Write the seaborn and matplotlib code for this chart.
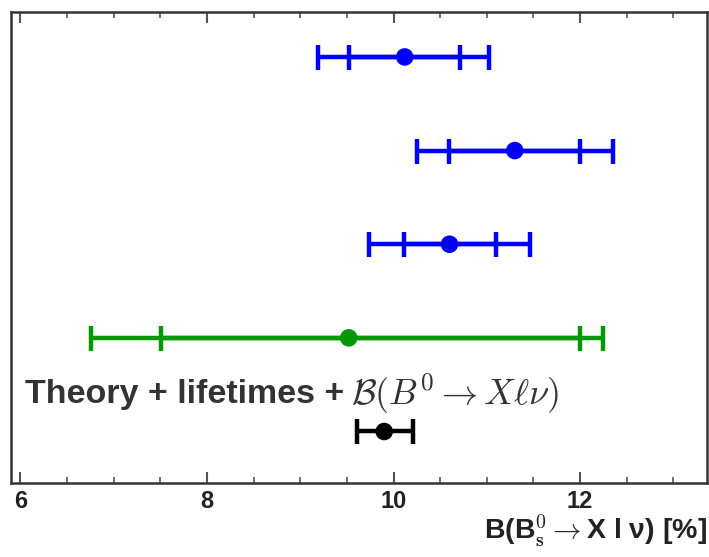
import numpy as np
import pandas as pd
import matplotlib
matplotlib.use("Agg")
import matplotlib.pyplot as plt
import seaborn as sns
from matplotlib.ticker import MultipleLocator

# ---- data ----
rows = ["m1", "m2", "m3", "theory_old", "theory_new"]
ypos = [4, 3, 2, 1, 0]
central = [10.12, 11.30, 10.60, 9.52, 9.90]
inner_lo = [0.60, 0.70, 0.49, 2.01, 0.0]
inner_hi = [0.59, 0.70, 0.50, 2.48, 0.0]
outer_lo = [0.93, 1.05, 0.86, 2.76, 0.29]
outer_hi = [0.90, 1.05, 0.86, 2.72, 0.31]
colors = ["#0000ff", "#0000ff", "#0000ff", "#009900", "#000000"]
xticks = [6, 8, 10, 12]
label_text = "Theory + lifetimes + "
label_math = r"$\mathcal{B}(B^0 \rightarrow X\ell\nu)$"

df = pd.DataFrame({"row": rows, "y": ypos, "x": central})

sns.set_theme(style="white")
plt.rcParams["font.family"] = ["Liberation Sans", "DejaVu Sans"]
plt.rcParams["mathtext.fontset"] = "cm"

fig = plt.figure(figsize=(7.09, 5.57), dpi=100)
ax = fig.add_axes([11 / 709, 1 - 483 / 557, (707 - 11) / 709, (483 - 12) / 557])

for i in range(len(rows)):
    c = colors[i]
    ax.errorbar(central[i], ypos[i], xerr=[[outer_lo[i]], [outer_hi[i]]],
                fmt="none", ecolor=c, elinewidth=3.2, capsize=9, capthick=3.2, zorder=2)
    if inner_lo[i] > 0:
        ax.errorbar(central[i], ypos[i], xerr=[[inner_lo[i]], [inner_hi[i]]],
                    fmt="none", ecolor=c, elinewidth=3.2, capsize=9, capthick=3.2, zorder=2)

sns.scatterplot(data=df, x="x", y="y", hue="row", palette=colors, s=160,
                edgecolor="none", legend=False, ax=ax, zorder=3)

ax.set_xlim(5.9, 13.36)
ax.set_ylim(-0.55, 4.48)
ax.set_yticks([])
ax.set_xticks(xticks)
ax.set_xticklabels([str(t) for t in xticks], fontsize=17, fontweight="bold", color="#222222")
ax.xaxis.set_minor_locator(MultipleLocator(0.5))
ax.tick_params(axis="x", which="major", direction="in", length=8, width=1.5,
               top=True, bottom=True, color="#555555", pad=5)
ax.tick_params(axis="x", which="minor", direction="in", length=4, width=1.2,
               top=True, bottom=True, color="#555555")
for s in ax.spines.values():
    s.set_linewidth(1.8)
    s.set_color("#333333")
ax.set_ylabel("")

ax.set_xlabel(r"B(B$_{\mathbf{s}}^{\mathbf{0}}$$\rightarrow$X l ν) [%]", loc="right",
              fontsize=20.5, fontweight="bold", color="#222222", labelpad=0)

t = ax.text(6.05, 0.40, label_text, fontsize=24.5, fontweight="bold", color="#333333",
            va="center", ha="left")
fig.canvas.draw()
bb = t.get_window_extent()
inv = ax.transData.inverted()
x_end = inv.transform((bb.x1 - 3, bb.y0))[0]
ax.text(x_end, 0.40, label_math, fontsize=26, color="#333333", va="center", ha="left")

fig.savefig("out.png", dpi=100)
